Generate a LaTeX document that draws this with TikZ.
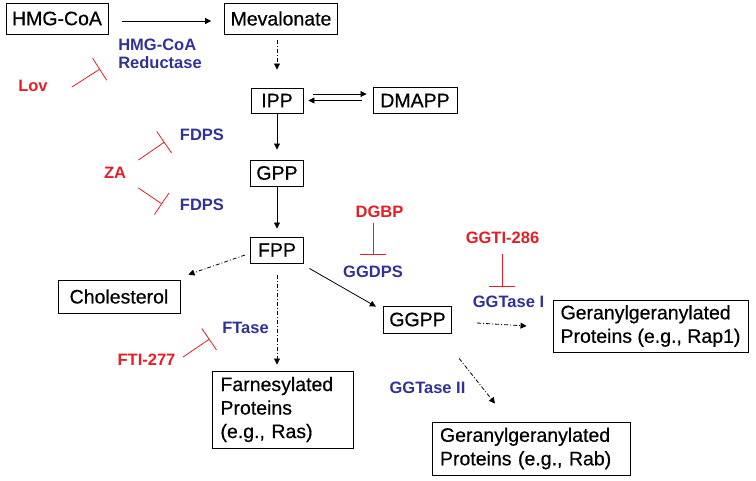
\documentclass[tikz,border=0pt]{standalone}
\usepackage{fontspec}
\setmainfont{Liberation Sans}
\newfontfamily\boxfont{Liberation Sans}[FakeBold=0.5]
\usetikzlibrary{arrows.meta}
\definecolor{enzblue}{RGB}{50,50,150}
\definecolor{drugred}{RGB}{228,30,40}
\tikzset{
  box/.style={draw, line width=0.9pt, inner xsep=6pt, inner ysep=4pt, font=\boxfont\fontsize{19.5}{23.5}\selectfont},
  enzyme/.style={text=enzblue, inner sep=2pt, font=\bfseries\fontsize{16.5}{18.5}\selectfont},
  drug/.style={text=drugred, inner sep=2pt, font=\bfseries\fontsize{16.5}{18.5}\selectfont},
  conv/.style={line width=0.8pt, -{Triangle[length=6pt,width=6pt]}},
  convdd/.style={conv, dash pattern=on 4pt off 2pt on 1pt off 2pt},
  inhib/.style={drugred, line width=0.8pt, -{Bar[width=26pt]}},
}
\begin{document}
\begin{tikzpicture}[x=1pt, y=-1pt]
\useasboundingbox (0,0) rectangle (756,480);
% Metabolitos
\node[box, minimum width=102pt, minimum height=31pt] (hmg) at (57,18.5) {HMG-CoA};
\node[box, minimum width=112pt, minimum height=31pt] (mev) at (281,18.5) {Mevalonate};
\node[box, minimum width=52pt, minimum height=25pt] (ipp) at (277,100.5) {IPP};
\node[box, minimum width=84pt, minimum height=26pt] (dmapp) at (415,100.5) {DMAPP};
\node[box, minimum width=52pt, minimum height=26pt] (gpp) at (277,173) {GPP};
\node[box, minimum width=53pt, minimum height=26pt] (fpp) at (277,250) {FPP};
\node[box, minimum width=122pt, minimum height=33pt] (chol) at (119,296.5) {Cholesterol};
\node[box, minimum width=65pt, minimum height=27pt] (ggpp) at (417.5,319.5) {GGPP};
% Proteinas preniladas
\node[box, align=left, text width=125pt, inner xsep=8pt, minimum height=77pt] (farn) at (283,409.5) {Farnesylated\\Proteins\\(e.g., Ras)};
\node[box, align=left, minimum width=195pt, minimum height=52pt] (rap) at (650.5,326) {Geranylgeranylated\\Proteins (e.g., Rap1)};
\node[box, align=left, text width=182pt, inner xsep=8pt, minimum height=53pt] (rab) at (531,448.5) {Geranylgeranylated\\Proteins (e.g., Rab)};
% Enzimas
\node[enzyme, align=left] (hmgr) at (160,54) {HMG-CoA\\Reductase};
\node[enzyme] (fdpsa) at (202,135) {FDPS};
\node[enzyme] (fdpsb) at (202,205) {FDPS};
\node[enzyme] (ggdps) at (373,272) {GGDPS};
\node[enzyme] (ftase) at (245.5,328) {FTase};
\node[enzyme] (ggta) at (508.5,302) {GGTase I};
\node[enzyme] (ggtb) at (427.5,388) {GGTase II};
% Inhibidores
\node[drug] (lov) at (33,86) {Lov};
\node[drug] (za) at (115,173) {ZA};
\node[drug] (fti) at (146.5,360) {FTI-277};
\node[drug] (dgbp) at (379.5,212) {DGBP};
\node[drug] (ggti) at (502.5,238) {GGTI-286};
% Puntos de bloqueo
\coordinate (lov-t) at (100,69);
\coordinate (za-ta) at (164.5,142);
\coordinate (za-tb) at (162,204);
\coordinate (fti-t) at (209.5,339);
\coordinate (dgbp-t) at (373,255);
\coordinate (ggti-t) at (502,287);
% Ruta principal
\draw[conv] ([xshift=14pt,yshift=-2.5pt]hmg.east) -- ([xshift=-13pt,yshift=-2.5pt]mev.west);
\draw[convdd] ([xshift=-4pt,yshift=-6pt]mev.south) -- ([yshift=18pt]ipp.north);
\draw[conv] ([xshift=10pt,yshift=6.5pt]ipp.east) -- ([xshift=-6pt,yshift=6.5pt]dmapp.west);
\draw[conv] ([xshift=-11pt]dmapp.west) -- ([xshift=5pt]ipp.east);
\draw[conv] (ipp) -- ([yshift=10pt]gpp.north);
\draw[conv] (gpp) -- ([yshift=8pt]fpp.north);
% Ramas desde FPP y GGPP
\draw[convdd] ([xshift=-5pt,yshift=-5pt]fpp.west) -- ([xshift=8pt,yshift=5pt]chol.north east);
\draw[convdd] ([yshift=-12pt]fpp.south) -- ([xshift=-6pt,yshift=6pt]farn.north);
\draw[conv] ([xshift=5.5pt,yshift=-5pt]fpp.south east) -- ([xshift=-7pt,yshift=-1pt]ggpp.north west);
\draw[convdd] ([xshift=25pt,yshift=-3.5pt]ggpp.east) -- ([xshift=-26pt]rap.west);
\draw[convdd] ([xshift=7pt,yshift=-25pt]ggpp.south east) -- ([xshift=-36pt,yshift=18pt]rab.north);
% Bloqueos
\draw[inhib] ([xshift=22pt,yshift=-1pt]lov.east) -- (lov-t);
\draw[inhib] ([xshift=10pt,yshift=5pt]za.north east) -- (za-ta);
\draw[inhib] ([xshift=10pt,yshift=-7pt]za.south east) -- (za-tb);
\draw[inhib] ([xshift=5.5pt,yshift=3pt]fti.east) -- (fti-t);
\draw[inhib] ([xshift=-6.5pt,yshift=-3pt]dgbp.south) -- (dgbp-t);
\draw[inhib] ([xshift=-0.5pt,yshift=-8pt]ggti.south) -- (ggti-t);
\end{tikzpicture}
\end{document}
